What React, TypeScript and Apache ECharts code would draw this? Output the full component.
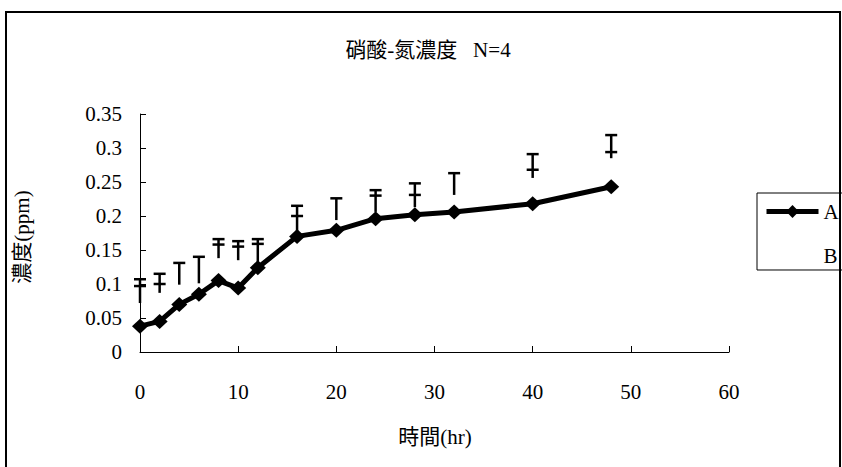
import React, { useEffect, useRef } from "react";
import * as echarts from "echarts";

// Sampling times (hr)
const hours = [0, 2, 4, 6, 8, 10, 12, 16, 20, 24, 28, 32, 40, 48];
// Nitrate-nitrogen concentration, series A (ppm)
const seriesA = [0.038, 0.045, 0.07, 0.085, 0.105, 0.094, 0.124, 0.17, 0.179, 0.196, 0.202, 0.206, 0.218, 0.243];
// Error bar extents (ppm): cap, inner mark (null = none), lower end
const errTop = [0.107, 0.115, 0.131, 0.14, 0.166, 0.163, 0.166, 0.215, 0.226, 0.238, 0.248, 0.263, 0.291, 0.319];
const errMark = [0.097, 0.1, null, null, 0.158, 0.155, 0.159, 0.2, null, 0.23, 0.231, null, 0.268, 0.294];
const errBottom = [0.072, 0.087, 0.099, 0.101, 0.138, 0.135, 0.124, 0.175, 0.194, 0.206, 0.213, 0.231, 0.256, 0.285];

const xTicks = { min: 0, max: 60, interval: 10 };
const yTicks = { min: 0, max: 0.35, interval: 0.05 };

const FONT = "'Liberation Serif', 'Noto Sans CJK TC', serif";

export default function App() {
  const ref = useRef<HTMLDivElement>(null);

  useEffect(() => {
    if (!ref.current) return;
    const chart = echarts.init(ref.current, undefined, { renderer: "svg" });

    const errData = hours.map((h, i) => [h, errBottom[i], errTop[i]]);

    chart.setOption({
      animation: false,
      backgroundColor: "#fff",
      textStyle: { fontFamily: FONT, color: "#000" },
      title: {
        text: "硝酸-氮濃度   N=4",
        left: 423,
        top: 34,
        textAlign: "center",
        textStyle: { fontFamily: FONT, fontSize: 21, fontWeight: "normal", color: "#000" },
      },
      legend: {
        data: ["A", "B"],
        orient: "vertical",
        left: 757,
        top: 193,
        padding: [8, 40, 3, 7],
        itemWidth: 52,
        itemHeight: 16,
        itemGap: 24,
        borderColor: "#000",
        borderWidth: 1,
        lineStyle: { width: 5 },
        textStyle: { fontFamily: FONT, fontSize: 21, color: "#000" },
      },
      grid: { left: 140, right: 113, top: 114, bottom: 115 },
      xAxis: {
        type: "value",
        ...xTicks,
        axisLine: { show: true, lineStyle: { color: "#000", width: 1 } },
        axisTick: { show: true, inside: true, length: 6, lineStyle: { color: "#000" } },
        splitLine: { show: false },
        axisLabel: { margin: 29, fontSize: 21, fontFamily: FONT, color: "#000" },
      },
      yAxis: {
        type: "value",
        ...yTicks,
        axisLine: { show: true, lineStyle: { color: "#000", width: 1 } },
        axisTick: { show: true, inside: true, length: 6, lineStyle: { color: "#000" } },
        splitLine: { show: false },
        axisLabel: { margin: 18, fontSize: 21, fontFamily: FONT, color: "#000" },
      },
      graphic: [
        {
          type: "rect",
          shape: { x: 6, y: 12, width: 834, height: 470 },
          style: { fill: "none", stroke: "#000", lineWidth: 2 },
          silent: true,
        },
        {
          type: "text",
          x: 435,
          y: 437,
          style: {
            text: "時間(hr)",
            fontFamily: FONT,
            fontSize: 21,
            fill: "#000",
            align: "center",
            verticalAlign: "middle",
          },
        },
        {
          type: "text",
          x: 22,
          y: 237,
          rotation: Math.PI / 2,
          style: {
            text: "濃度(ppm)",
            fontFamily: FONT,
            fontSize: 21,
            fill: "#000",
            align: "center",
            verticalAlign: "middle",
          },
        },
      ],
      series: [
        {
          name: "B",
          type: "line",
          data: [],
          symbol: "diamond",
          symbolSize: 14,
          itemStyle: { color: "#fff" },
          lineStyle: { color: "#fff", width: 3 },
          z: 1,
        },
        {
          name: "errors",
          type: "custom",
          data: errData,
          encode: { x: 0, y: [1, 2] },
          z: 3,
          renderItem: (params: any, api: any) => {
            const i = params.dataIndex;
            const x = api.value(0);
            const lo = api.coord([x, api.value(1)]);
            const hi = api.coord([x, api.value(2)]);
            const capHalf = 6;
            const style = { stroke: "#000", lineWidth: 2.5 };
            const children: any[] = [
              { type: "line", shape: { x1: lo[0], y1: lo[1], x2: hi[0], y2: hi[1] }, style },
              { type: "line", shape: { x1: hi[0] - capHalf, y1: hi[1], x2: hi[0] + capHalf, y2: hi[1] }, style },
            ];
            const m = errMark[i];
            if (m != null) {
              const mp = api.coord([x, m]);
              children.push({
                type: "line",
                shape: { x1: mp[0] - capHalf, y1: mp[1], x2: mp[0] + capHalf, y2: mp[1] },
                style,
              });
            }
            return { type: "group", children };
          },
        },
        {
          name: "A",
          type: "line",
          data: hours.map((h, i) => [h, seriesA[i]]),
          symbol: "diamond",
          symbolSize: [16, 15],
          itemStyle: { color: "#000" },
          lineStyle: { color: "#000", width: 5 },
          z: 4,
        },
      ],
    });

    return () => chart.dispose();
  }, []);

  return <div ref={ref} style={{ width: 842, height: 467, position: "absolute", left: 0, top: 0 }} />;
}
